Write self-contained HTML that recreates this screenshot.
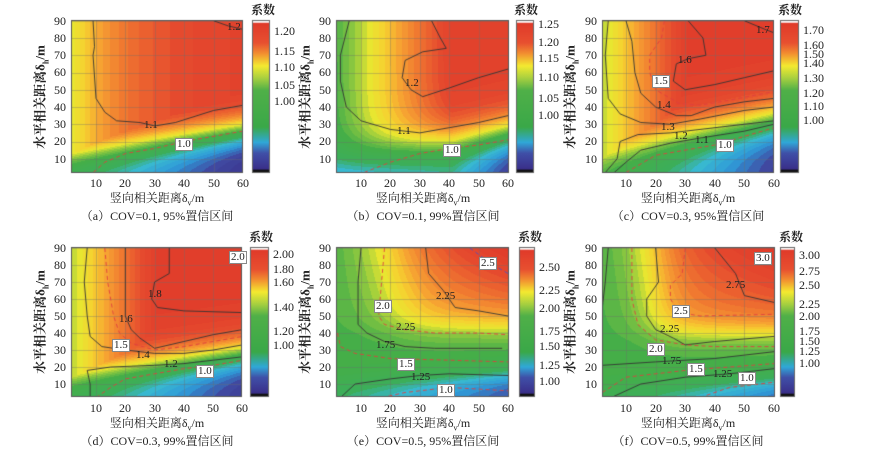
<!DOCTYPE html>
<html><head><meta charset="utf-8"><style>
body{margin:0;background:#fff;}
#w{position:relative;width:888px;height:453px;overflow:hidden;font-family:"Liberation Serif","Noto Serif CJK SC",serif;color:#222;}
canvas{position:absolute;left:0;top:0;}
.t{position:absolute;font-size:12px;line-height:12px;white-space:nowrap;}
.yt{text-align:right;width:24px;}
.xt{width:24px;text-align:center;margin-left:-12px;}
.lb{position:absolute;font-size:11px;line-height:11px;white-space:nowrap;padding:0 1px;}
.bx{background:#fff;border:1px solid #888;}
.ttl{position:absolute;font-size:12px;white-space:nowrap;transform:translateX(-50%);}
.yl{position:absolute;font-size:13px;white-space:nowrap;transform:translate(-50%,-50%) rotate(-90deg);font-weight:bold;}
</style></head><body><div id="w">
<canvas id="c" width="888" height="453"></canvas>
</div>
<script>
function lg(z){return 1/(1+Math.exp(-z));}
function cl(v){return Math.max(0,v);}
var P=[
{x0:71,x1:243,y0:20,y1:173,X10:96,sx:2.94,Y0:176,sy:1.725,
 f:function(x,y){return Math.min(.97-.39*Math.exp(-(x-1)/22), .97-(.65+.3*x/60)*lg(-(y-(14+.22*x))/6));}},
{x0:336,x1:509,y0:20,y1:173,X10:361,sx:2.94,Y0:176,sy:1.725,
 f:function(x,y){return .95-.5*cl(1-(x-1)/40)-(.3+.6*x/60)*lg(-(y-(8+.3*x))/7);}},
{x0:602,x1:774,y0:20,y1:173,X10:626,sx:2.96,Y0:176,sy:1.725,
 f:function(x,y){return Math.min(.97-.42*cl(1-(x-1)/30), .97-(.55+.35*x/60)*lg(-(y-(16+.3*x))/7));}},
{x0:71,x1:242,y0:247,y1:397,X10:96,sx:2.93,Y0:401,sy:1.7,
 f:function(x,y){return Math.min(.97-.42*cl(1-(x-1)/30), .97-(.62+.3*x/60)*lg(-(y-(17+.2*x))/6));}},
{x0:336,x1:509,y0:247,y1:397,X10:361,sx:2.94,Y0:401,sy:1.7,
 f:function(x,y){return .45+.25*lg((x-22)/7)*lg((y-42)/5)+.3*(x/60)*Math.max(0,(y-40)/50)-.35*lg(-(y-(10+.1*x))/4)*(0.4+0.6*x/60);}},
{x0:602,x1:775,y0:247,y1:397,X10:626,sx:2.96,Y0:401,sy:1.7,
 f:function(x,y){return .45+.3*lg((x-20)/5)*lg((y-40)/5)+.25*(x/60)*Math.max(0,(y-35)/55)-.33*lg(-(y-(6+.1*x))/4)*(0.3+0.7*x/60);}}
];
var S=[[0,[58,47,138]],[.1,[64,72,160]],[.18,[47,154,216]],[.25,[56,184,208]],[.32,[60,174,90]],[.45,[69,174,72]],[.53,[140,200,64]],[.6,[232,230,48]],[.66,[246,208,48]],[.73,[246,160,50]],[.82,[238,110,48]],[.9,[229,74,46]],[1,[224,58,42]]];
function cm(t){t=Math.max(0,Math.min(1,t));t=Math.round(t*40)/40;
 for(var i=1;i<S.length;i++){if(t<=S[i][0]){var a=S[i-1],b=S[i],u=(t-a[0])/(b[0]-a[0]);
 return [a[1][0]+(b[1][0]-a[1][0])*u,a[1][1]+(b[1][1]-a[1][1])*u,a[1][2]+(b[1][2]-a[1][2])*u];}}return S[S.length-1][1];}
var cv=document.getElementById('c'),g=cv.getContext('2d');
var img=g.createImageData(888,453),d=img.data;
for(var i=0;i<d.length;i+=4){d[i]=d[i+1]=d[i+2]=255;d[i+3]=255;}
P.forEach(function(p){
 for(var py=p.y0;py<p.y1;py++)for(var px=p.x0;px<p.x1;px++){
  var x=10+(px+.5-p.X10)/p.sx,y=(p.Y0-py-.5)/p.sy;
  var c=cm(p.f(x,y));var k=(py*888+px)*4;d[k]=c[0];d[k+1]=c[1];d[k+2]=c[2];}
});
g.putImageData(img,0,0);
var CB=[[252,270,20,173],[516,534,20,173],[780,799,20,173],[250,269,247,397],[519,535,247,397],[780,795,247,397]];
CB.forEach(function(b){var gr=g.createLinearGradient(0,b[2],0,b[3]);
 [[0,'#fff'],[.015,'#fff'],[.02,'#e03a2a'],[.15,'#e85030'],[.22,'#f29030'],[.3,'#f4ea30'],[.38,'#a8d040'],[.46,'#50b048'],[.7,'#3aa848'],[.8,'#30a8d8'],[.87,'#4050a8'],[.975,'#3a2f8a'],[.98,'#111'],[1,'#111']].forEach(function(s){gr.addColorStop(s[0],s[1]);});
 g.fillStyle=gr;g.fillRect(b[0],b[2],b[1]-b[0],b[3]-b[2]);g.strokeStyle='#666';g.lineWidth=1;g.strokeRect(b[0]+.5,b[2]+.5,b[1]-b[0]-1,b[3]-b[2]-1);});
var L=[
[[[[9,90],[9.5,75],[9,70],[10,45],[13,37],[17,32],[25,31],[30,29],[37,31],[50,38],[60,41]],0],[[[9,2],[13,8],[20,13],[30,16],[40,20],[50,23],[60,26]],1],[[[50,90],[55,87],[60,85]],0]],
[[[[6,90],[3,70],[3,55],[5,40],[10,32],[20,27],[30,25],[40,28],[50,31],[60,35]],0],[[[34,90],[37,80],[39,74],[31,72],[25,67],[24,57],[27,50],[31,46],[40,51],[50,57],[60,62]],0],[[[11,2],[20,8],[30,13],[40,16],[50,18],[60,21]],1]],
[[[[4,90],[3,70],[4,45],[8,36],[15,31],[25,30],[35,33],[50,38],[60,40]],0],[[[10,90],[12,78],[13,60],[15,48],[20,40],[27,35],[32,35],[40,40],[50,43],[60,45]],0],[[[31,90],[36,80],[37,70],[31,68],[27,65],[26,55],[30,50],[40,53],[50,57],[60,61]],0],[[[23,90],[22,80],[18,70],[18,60],[20,50],[28,42],[35,41],[45,44],[60,49]],1],[[[3,2],[7,10],[8,20],[14,24],[25,25],[35,27],[50,30],[60,32]],0],[[[6,2],[10,8],[15,15],[25,19],[35,22],[50,26],[60,30]],0],[[[10,2],[14,6],[20,12],[30,15],[40,18],[50,23],[60,28]],1],[[[50,90],[57,85],[60,83]],0]],
[[[[35,90],[35,75],[30,70],[29,60],[31,55],[40,53],[60,52]],0],[[[20,90],[20,60],[20,50],[22,42],[25,37],[30,31],[40,35],[50,39],[60,42]],0],[[[13,90],[14,70],[16,50],[18,40],[22,34],[30,30],[40,32],[50,35],[60,38]],1],[[[7,90],[6,70],[7,50],[8,38],[12,32],[20,30],[30,28],[40,28],[50,30],[60,33]],0],[[[8,2],[8,10],[7,18],[15,20],[30,21],[40,22],[50,24],[60,26]],0],[[[10,2],[15,8],[20,13],[30,16],[40,19],[50,21],[60,24]],1]],
[[[[10,90],[9,70],[9,45],[12,40],[18,35],[25,32],[35,31],[50,31],[58,31]],0],[[[18,90],[17,70],[16,50],[18,45],[25,42],[35,40],[50,40],[60,39]],1],[[[32,90],[33,75],[38,65],[42,55],[50,53],[60,50]],0],[[[2,40],[3,32],[8,28],[20,25],[40,24],[60,23]],1],[[[3,2],[8,10],[20,13],[30,15],[40,16],[60,15]],0],[[[17,2],[25,5],[40,8],[60,6]],1],[[[47,90],[55,80],[60,75]],2]],
[[[[2,21],[20,23],[40,25],[60,29]],0],[[[20,90],[21,70],[17,60],[17,50],[20,42],[26,37],[30,33],[40,35],[60,38]],0],[[[30,90],[29,75],[25,68],[25,60],[28,52],[35,50],[60,51]],1],[[[40,90],[47,75],[50,62],[60,58]],0],[[[12,90],[12,60],[14,45],[20,36],[30,33],[40,32],[60,32]],1],[[[2,5],[10,14],[20,16],[30,18],[45,20],[60,22]],1],[[[5,2],[15,10],[30,14],[45,16],[60,19]],0],[[[35,2],[45,8],[60,11]],1],[[[4,90],[3,70],[2,55]],0]]
];
P.forEach(function(p,pi){
 g.save();g.beginPath();g.rect(p.x0,p.y0,p.x1-p.x0,p.y1-p.y0);g.clip();
 g.strokeStyle='rgba(110,110,110,0.35)';g.lineWidth=1;
 for(var x=10;x<=60;x+=10){var X=Math.round(p.X10+(x-10)*p.sx)+.5;g.beginPath();g.moveTo(X,p.y0);g.lineTo(X,p.y1);g.stroke();}
 for(var y=10;y<=90;y+=10){var Y=Math.round(p.Y0-y*p.sy)+.5;g.beginPath();g.moveTo(p.x0,Y);g.lineTo(p.x1,Y);g.stroke();}
 (L[pi]||[]).forEach(function(l){g.beginPath();l[0].forEach(function(q,i){var X=p.X10+(q[0]-10)*p.sx,Y=p.Y0-q[1]*p.sy;if(i)g.lineTo(X,Y);else g.moveTo(X,Y);});
  if(l[1]==1){g.strokeStyle='#e04040';g.setLineDash([4,3]);}else if(l[1]==2){g.strokeStyle='#5050c0';g.setLineDash([4,3]);}else{g.strokeStyle='#333';g.setLineDash([]);}
  g.lineWidth=0.9;g.stroke();});
 g.setLineDash([]);g.restore();
 g.strokeStyle='#555';g.lineWidth=1;g.strokeRect(p.x0+.5,p.y0+.5,p.x1-p.x0-1,p.y1-p.y0-1);
});
</script>
<div style="position:absolute;left:0;top:0;width:888px;height:453px;font-family:'Liberation Serif','Noto Serif CJK SC',serif;color:#222;">
<div class="t yt" style="left:42px;top:15px">90</div><div class="t yt" style="left:42px;top:32px">80</div><div class="t yt" style="left:42px;top:49px">70</div><div class="t yt" style="left:42px;top:66px">60</div><div class="t yt" style="left:42px;top:84px">50</div><div class="t yt" style="left:42px;top:101px">40</div><div class="t yt" style="left:42px;top:118px">30</div><div class="t yt" style="left:42px;top:135px">20</div><div class="t yt" style="left:42px;top:153px">10</div>
<div class="t yt" style="left:307px;top:15px">90</div><div class="t yt" style="left:307px;top:32px">80</div><div class="t yt" style="left:307px;top:49px">70</div><div class="t yt" style="left:307px;top:66px">60</div><div class="t yt" style="left:307px;top:84px">50</div><div class="t yt" style="left:307px;top:101px">40</div><div class="t yt" style="left:307px;top:118px">30</div><div class="t yt" style="left:307px;top:135px">20</div><div class="t yt" style="left:307px;top:153px">10</div>
<div class="t yt" style="left:573px;top:15px">90</div><div class="t yt" style="left:573px;top:32px">80</div><div class="t yt" style="left:573px;top:49px">70</div><div class="t yt" style="left:573px;top:66px">60</div><div class="t yt" style="left:573px;top:84px">50</div><div class="t yt" style="left:573px;top:101px">40</div><div class="t yt" style="left:573px;top:118px">30</div><div class="t yt" style="left:573px;top:135px">20</div><div class="t yt" style="left:573px;top:153px">10</div>
<div class="t yt" style="left:42px;top:242px">90</div><div class="t yt" style="left:42px;top:259px">80</div><div class="t yt" style="left:42px;top:276px">70</div><div class="t yt" style="left:42px;top:293px">60</div><div class="t yt" style="left:42px;top:310px">50</div><div class="t yt" style="left:42px;top:327px">40</div><div class="t yt" style="left:42px;top:344px">30</div><div class="t yt" style="left:42px;top:361px">20</div><div class="t yt" style="left:42px;top:378px">10</div>
<div class="t yt" style="left:307px;top:242px">90</div><div class="t yt" style="left:307px;top:259px">80</div><div class="t yt" style="left:307px;top:276px">70</div><div class="t yt" style="left:307px;top:293px">60</div><div class="t yt" style="left:307px;top:310px">50</div><div class="t yt" style="left:307px;top:327px">40</div><div class="t yt" style="left:307px;top:344px">30</div><div class="t yt" style="left:307px;top:361px">20</div><div class="t yt" style="left:307px;top:378px">10</div>
<div class="t yt" style="left:573px;top:242px">90</div><div class="t yt" style="left:573px;top:259px">80</div><div class="t yt" style="left:573px;top:276px">70</div><div class="t yt" style="left:573px;top:293px">60</div><div class="t yt" style="left:573px;top:310px">50</div><div class="t yt" style="left:573px;top:327px">40</div><div class="t yt" style="left:573px;top:344px">30</div><div class="t yt" style="left:573px;top:361px">20</div><div class="t yt" style="left:573px;top:378px">10</div>
<div class="t xt" style="left:96px;top:177px">10</div><div class="t xt" style="left:125px;top:177px">20</div><div class="t xt" style="left:155px;top:177px">30</div><div class="t xt" style="left:184px;top:177px">40</div><div class="t xt" style="left:214px;top:177px">50</div><div class="t xt" style="left:243px;top:177px">60</div>
<div class="t xt" style="left:361px;top:177px">10</div><div class="t xt" style="left:390px;top:177px">20</div><div class="t xt" style="left:420px;top:177px">30</div><div class="t xt" style="left:449px;top:177px">40</div><div class="t xt" style="left:479px;top:177px">50</div><div class="t xt" style="left:508px;top:177px">60</div>
<div class="t xt" style="left:626px;top:177px">10</div><div class="t xt" style="left:656px;top:177px">20</div><div class="t xt" style="left:685px;top:177px">30</div><div class="t xt" style="left:715px;top:177px">40</div><div class="t xt" style="left:744px;top:177px">50</div><div class="t xt" style="left:774px;top:177px">60</div>
<div class="t xt" style="left:96px;top:402px">10</div><div class="t xt" style="left:125px;top:402px">20</div><div class="t xt" style="left:155px;top:402px">30</div><div class="t xt" style="left:184px;top:402px">40</div><div class="t xt" style="left:213px;top:402px">50</div><div class="t xt" style="left:242px;top:402px">60</div>
<div class="t xt" style="left:361px;top:402px">10</div><div class="t xt" style="left:390px;top:402px">20</div><div class="t xt" style="left:420px;top:402px">30</div><div class="t xt" style="left:449px;top:402px">40</div><div class="t xt" style="left:479px;top:402px">50</div><div class="t xt" style="left:508px;top:402px">60</div>
<div class="t xt" style="left:626px;top:402px">10</div><div class="t xt" style="left:656px;top:402px">20</div><div class="t xt" style="left:685px;top:402px">30</div><div class="t xt" style="left:715px;top:402px">40</div><div class="t xt" style="left:744px;top:402px">50</div><div class="t xt" style="left:774px;top:402px">60</div>
<div class="ttl" style="left:157px;top:189px">竖向相关距离δ<sub style="font-size:8px">v</sub>/m</div>
<div class="ttl" style="left:423px;top:189px">竖向相关距离δ<sub style="font-size:8px">v</sub>/m</div>
<div class="ttl" style="left:688px;top:189px">竖向相关距离δ<sub style="font-size:8px">v</sub>/m</div>
<div class="ttl" style="left:157px;top:414px">竖向相关距离δ<sub style="font-size:8px">v</sub>/m</div>
<div class="ttl" style="left:423px;top:414px">竖向相关距离δ<sub style="font-size:8px">v</sub>/m</div>
<div class="ttl" style="left:688px;top:414px">竖向相关距离δ<sub style="font-size:8px">v</sub>/m</div>
<div class="ttl" style="left:157px;top:207px">（a）COV=0.1, 95%置信区间</div>
<div class="ttl" style="left:423px;top:207px">（b）COV=0.1, 99%置信区间</div>
<div class="ttl" style="left:688px;top:207px">（c）COV=0.3, 95%置信区间</div>
<div class="ttl" style="left:157px;top:432px">（d）COV=0.3, 99%置信区间</div>
<div class="ttl" style="left:423px;top:432px">（e）COV=0.5, 95%置信区间</div>
<div class="ttl" style="left:688px;top:432px">（f）COV=0.5, 99%置信区间</div>
<div class="yl" style="left:40px;top:97px">水平相关距离δ<sub style="font-size:8px">h</sub>/m</div>
<div class="yl" style="left:305px;top:97px">水平相关距离δ<sub style="font-size:8px">h</sub>/m</div>
<div class="yl" style="left:570px;top:97px">水平相关距离δ<sub style="font-size:8px">h</sub>/m</div>
<div class="yl" style="left:40px;top:322px">水平相关距离δ<sub style="font-size:8px">h</sub>/m</div>
<div class="yl" style="left:305px;top:322px">水平相关距离δ<sub style="font-size:8px">h</sub>/m</div>
<div class="yl" style="left:570px;top:322px">水平相关距离δ<sub style="font-size:8px">h</sub>/m</div>
<div class="t" style="left:251px;top:4px;font-weight:bold">系数</div>
<div class="t" style="left:514px;top:4px;font-weight:bold">系数</div>
<div class="t" style="left:778px;top:4px;font-weight:bold">系数</div>
<div class="t" style="left:249px;top:231px;font-weight:bold">系数</div>
<div class="t" style="left:518px;top:231px;font-weight:bold">系数</div>
<div class="t" style="left:779px;top:231px;font-weight:bold">系数</div>
<div class="t" style="left:274px;top:25px">1.20</div><div class="t" style="left:274px;top:45px">1.15</div><div class="t" style="left:274px;top:61px">1.10</div><div class="t" style="left:274px;top:79px">1.05</div><div class="t" style="left:274px;top:95px">1.00</div>
<div class="t" style="left:538px;top:18px">1.25</div><div class="t" style="left:538px;top:36px">1.20</div><div class="t" style="left:538px;top:52px">1.15</div><div class="t" style="left:538px;top:71px">1.10</div><div class="t" style="left:538px;top:92px">1.05</div><div class="t" style="left:538px;top:109px">1.00</div>
<div class="t" style="left:803px;top:24px">1.70</div><div class="t" style="left:803px;top:39px">1.60</div><div class="t" style="left:803px;top:48px">1.50</div><div class="t" style="left:803px;top:57px">1.40</div><div class="t" style="left:803px;top:72px">1.30</div><div class="t" style="left:803px;top:87px">1.20</div><div class="t" style="left:803px;top:100px">1.10</div><div class="t" style="left:803px;top:114px">1.00</div>
<div class="t" style="left:273px;top:248px">2.00</div><div class="t" style="left:273px;top:263px">1.80</div><div class="t" style="left:273px;top:276px">1.60</div><div class="t" style="left:273px;top:301px">1.40</div><div class="t" style="left:273px;top:325px">1.20</div><div class="t" style="left:273px;top:339px">1.00</div>
<div class="t" style="left:539px;top:261px">2.50</div><div class="t" style="left:539px;top:284px">2.25</div><div class="t" style="left:539px;top:302px">2.00</div><div class="t" style="left:539px;top:325px">1.75</div><div class="t" style="left:539px;top:340px">1.50</div><div class="t" style="left:539px;top:359px">1.25</div><div class="t" style="left:539px;top:375px">1.00</div>
<div class="t" style="left:799px;top:249px">3.00</div><div class="t" style="left:799px;top:265px">2.75</div><div class="t" style="left:799px;top:279px">2.50</div><div class="t" style="left:799px;top:298px">2.25</div><div class="t" style="left:799px;top:310px">2.00</div><div class="t" style="left:799px;top:325px">1.75</div><div class="t" style="left:799px;top:335px">1.50</div><div class="t" style="left:799px;top:345px">1.25</div><div class="t" style="left:799px;top:357px">1.00</div>
<div class="lb" style="left:226px;top:22px">1.2</div><div class="lb" style="left:143px;top:120px">1.1</div><div class="lb bx" style="left:175px;top:138px">1.0</div>
<div class="lb" style="left:404px;top:78px">1.2</div><div class="lb" style="left:396px;top:126px">1.1</div><div class="lb bx" style="left:443px;top:144px">1.0</div>
<div class="lb" style="left:755px;top:25px">1.7</div><div class="lb" style="left:677px;top:55px">1.6</div><div class="lb bx" style="left:652px;top:75px">1.5</div><div class="lb" style="left:656px;top:100px">1.4</div><div class="lb" style="left:660px;top:122px">1.3</div><div class="lb" style="left:673px;top:131px">1.2</div><div class="lb" style="left:694px;top:135px">1.1</div><div class="lb bx" style="left:716px;top:139px">1.0</div>
<div class="lb bx" style="left:229px;top:251px">2.0</div><div class="lb" style="left:147px;top:289px">1.8</div><div class="lb" style="left:118px;top:314px">1.6</div><div class="lb bx" style="left:112px;top:339px">1.5</div><div class="lb" style="left:135px;top:350px">1.4</div><div class="lb" style="left:163px;top:359px">1.2</div><div class="lb bx" style="left:196px;top:365px">1.0</div>
<div class="lb bx" style="left:479px;top:257px">2.5</div><div class="lb" style="left:435px;top:291px">2.25</div><div class="lb bx" style="left:374px;top:300px">2.0</div><div class="lb" style="left:395px;top:322px">2.25</div><div class="lb" style="left:375px;top:340px">1.75</div><div class="lb bx" style="left:397px;top:358px">1.5</div><div class="lb" style="left:410px;top:372px">1.25</div><div class="lb bx" style="left:437px;top:384px">1.0</div>
<div class="lb bx" style="left:754px;top:252px">3.0</div><div class="lb" style="left:725px;top:280px">2.75</div><div class="lb bx" style="left:672px;top:305px">2.5</div><div class="lb" style="left:659px;top:324px">2.25</div><div class="lb bx" style="left:647px;top:343px">2.0</div><div class="lb" style="left:661px;top:356px">1.75</div><div class="lb bx" style="left:687px;top:363px">1.5</div><div class="lb" style="left:712px;top:369px">1.25</div><div class="lb bx" style="left:738px;top:372px">1.0</div>
</div>
</body></html>
